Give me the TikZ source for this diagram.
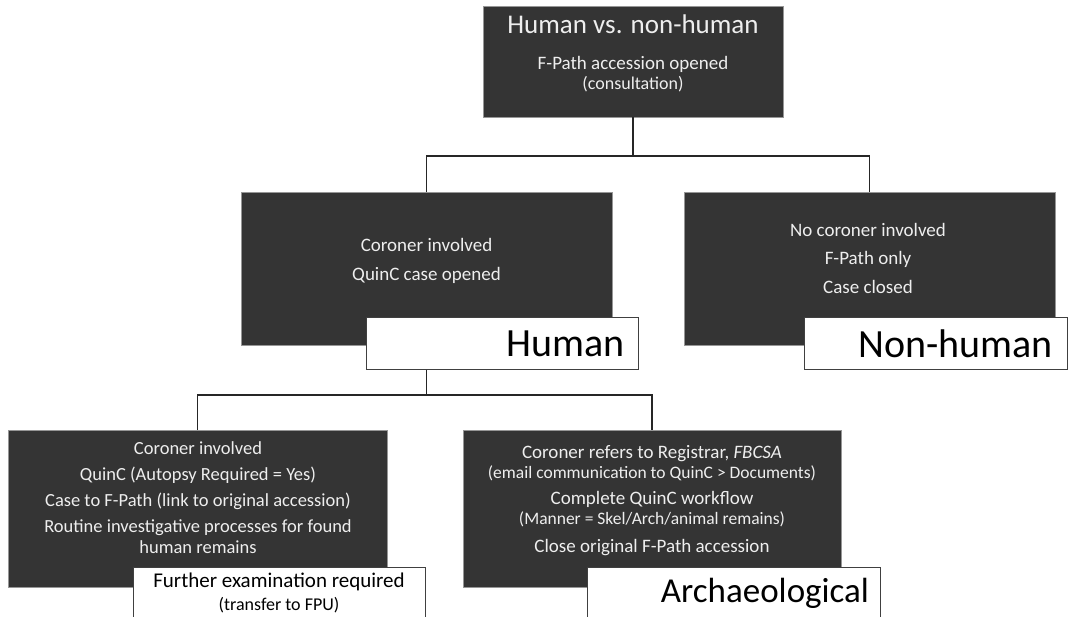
\documentclass[tikz,border=0pt]{standalone}
\usepackage{fontspec}
\setmainfont{Carlito}
\usepackage{tikz}
\usetikzlibrary{positioning, calc}
\definecolor{SlateDark}{RGB}{52,52,52}
\definecolor{SlateEdge}{RGB}{150,150,150}
\definecolor{PaleText}{RGB}{238,238,238}
\tikzset{
  darkbox/.style={draw=SlateEdge, line width=0.8pt, fill=SlateDark, inner sep=0pt, outer sep=0pt},
  darktxt/.style={text=PaleText, align=center, inner sep=0pt},
  tagbox/.style={draw=black!75, line width=1pt, fill=white, outer sep=0pt, inner ysep=0pt,
    minimum height=52pt},
  bigtag/.style={tagbox, align=right, font=\fontsize{40}{44}\selectfont},
  link/.style={draw=black!85, line width=1.2pt},
}

\begin{document}
\begin{tikzpicture}[x=1pt, y=-1pt]
  \clip (0,0) rectangle (1069,617);
  % decision boxes
  \node[darkbox, minimum width=300pt, minimum height=111pt] (top) at (633,61.5) {};
  \node[darkbox, minimum width=371pt, minimum height=153pt] (hum) at (426.5,268.5) {};
  \node[darkbox, minimum width=371pt, minimum height=153pt] (nonhum) at (869.5,268.5) {};
  \node[darkbox, minimum width=379pt, minimum height=157pt] (exam) at (197.5,508.5) {};
  \node[darkbox, minimum width=378pt, minimum height=157pt] (arch) at (652,508.5) {};

  \node[darktxt, font=\fontsize{27}{30}\selectfont] (top-title) at (633,24) {Human vs. non-human};
  \node[darktxt, font=\fontsize{19}{20}\selectfont] (top-sub) at (633,74.5)
    {F-Path accession opened\\{\fontsize{18}{20}\selectfont(consultation)}};
  \node[darktxt, font=\fontsize{19}{29}\selectfont] (hum-txt) at (426.5,261)
    {Coroner involved\\QuinC case opened};
  \node[darktxt, font=\fontsize{19}{28.5}\selectfont] (nonhum-txt) at (868,258)
    {No coroner involved\\F-Path only\\Case closed};
  \node[darktxt, font=\fontsize{18.5}{21}\selectfont] (exam-txt) at (198,497.5)
    {Coroner involved\\[5pt]QuinC (Autopsy Required = Yes)\\[5pt]Case to F-Path (link to original accession)\\[5pt]Routine investigative processes for found\\human remains};
  \node[darktxt, font=\fontsize{19}{20}\selectfont] (arch-txt) at (652,500.5)
    {Coroner refers to Registrar, \textit{FBCSA}\\{\fontsize{17.5}{20}\selectfont(email communication to QuinC > Documents)}\\[6.5pt]Complete QuinC workflow\\{\fontsize{17.5}{20}\selectfont(Manner = Skel/Arch/animal remains)}\\[7.5pt]Close original F-Path accession};

  % outcome tags
  \node[bigtag, text width=246pt, inner xsep=13pt] (hum-tag) at (502,344) {Human};
  \node[bigtag, text width=235pt, inner xsep=14pt] (nonhum-tag) at (935.5,343.5) {Non-human};
  \node[tagbox, minimum width=292pt, align=center, font=\fontsize{21}{23}\selectfont] (exam-tag) at (279,593)
    {Further examination required\\{\fontsize{18}{23}\selectfont(transfer to FPU)}};
  \node[bigtag, text width=271pt, inner xsep=11pt, font=\fontsize{35}{40}\selectfont] (arch-tag) at (733.5,593) {Archaeological};

  % connectors
  \coordinate (fork1) at (633,156);
  \coordinate (fork2) at (426.5,395);
  \draw[link] (top.south) -- (fork1) -| (hum.north);
  \draw[link] (fork1) -| (nonhum.north);
  \draw[link] (hum-tag.south -| hum.south) -- (fork2) -| (exam.north);
  \draw[link] (fork2) -| (arch.north);
\end{tikzpicture}
\end{document}
